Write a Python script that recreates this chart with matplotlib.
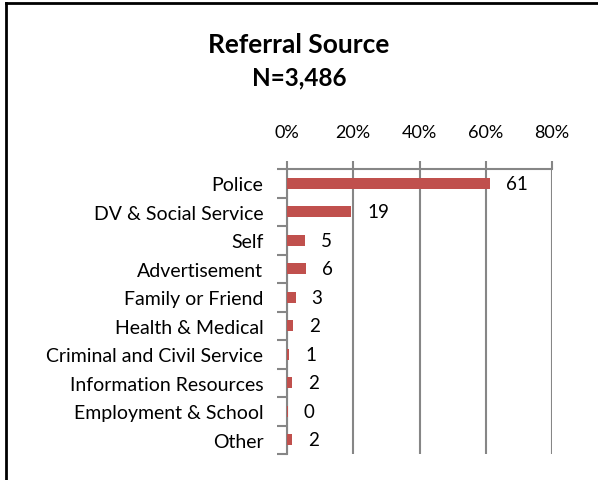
import matplotlib
matplotlib.use("Agg")
import matplotlib.pyplot as plt
from matplotlib.lines import Line2D
from matplotlib.ticker import FixedLocator

plt.rcParams['font.family'] = ['Lato', 'DejaVu Sans']

# data (percent of referrals)
sources = ["Police", "DV & Social Service", "Self", "Advertisement",
           "Family or Friend", "Health & Medical", "Criminal and Civil Service",
           "Information Resources", "Employment & School", "Other"]
pct = [61.3, 19.4, 5.45, 5.75, 2.6, 1.9, 0.6, 1.6, 0.3, 1.6]
pct_labels = ["61", "19", "5", "6", "3", "2", "1", "2", "0", "2"]
xticks = [0, 20, 40, 60, 80]

bar_col = "#C0504D"
grid_col = "#868686"

fig = plt.figure(figsize=(5.98, 4.81), dpi=100)
ax = fig.add_axes([287/598, 1-455/481, (552-287)/598, (455-170)/481])

y = list(range(len(sources)))
ax.barh(y, pct, height=0.4, color=bar_col, zorder=3)
for yi, v, lab in zip(y, pct, pct_labels):
    ax.annotate(lab, (v, yi), xytext=(11.5, 0), textcoords="offset points",
                ha="left", va="center", fontsize=13.5, color="black")

ax.set_ylim(len(sources)-0.5, -0.5)
ax.set_xlim(0, 80)

ax.xaxis.tick_top()
ax.set_xticks(xticks)
ax.set_xticklabels([f"{t}%" for t in xticks], fontsize=13)
ax.tick_params(axis="x", length=6, width=1.5, color=grid_col, pad=15)
ax.grid(axis="x", color=grid_col, linewidth=1.5, zorder=0)

ax.set_yticks(y)
ax.set_yticklabels(sources, fontsize=14)
ax.yaxis.set_minor_locator(FixedLocator([i-0.5 for i in range(len(sources)+1)]))
ax.tick_params(axis="y", which="major", length=0, pad=17)
ax.tick_params(axis="y", which="minor", length=7, width=1.5, color=grid_col)

for s in ["bottom", "right"]:
    ax.spines[s].set_visible(False)
for s in ["top", "left"]:
    ax.spines[s].set_color(grid_col)
    ax.spines[s].set_linewidth(1.5)

fig.text(0.5, 1-53/481, "Referral Source", ha="center", va="baseline",
         fontsize=19, fontweight="bold")
fig.text(0.5, 1-85/481, "N=3,486", ha="center", va="baseline",
         fontsize=17.5, fontweight="bold")

# chart frame (left and top edges only visible)
fig.add_artist(Line2D([6/598, 6/598], [0, 1-4/481], color="black", linewidth=2,
                      transform=fig.transFigure))
fig.add_artist(Line2D([6/598, 1], [1-4/481, 1-4/481], color="black", linewidth=2,
                      transform=fig.transFigure))

fig.savefig("out.png", dpi=100)
